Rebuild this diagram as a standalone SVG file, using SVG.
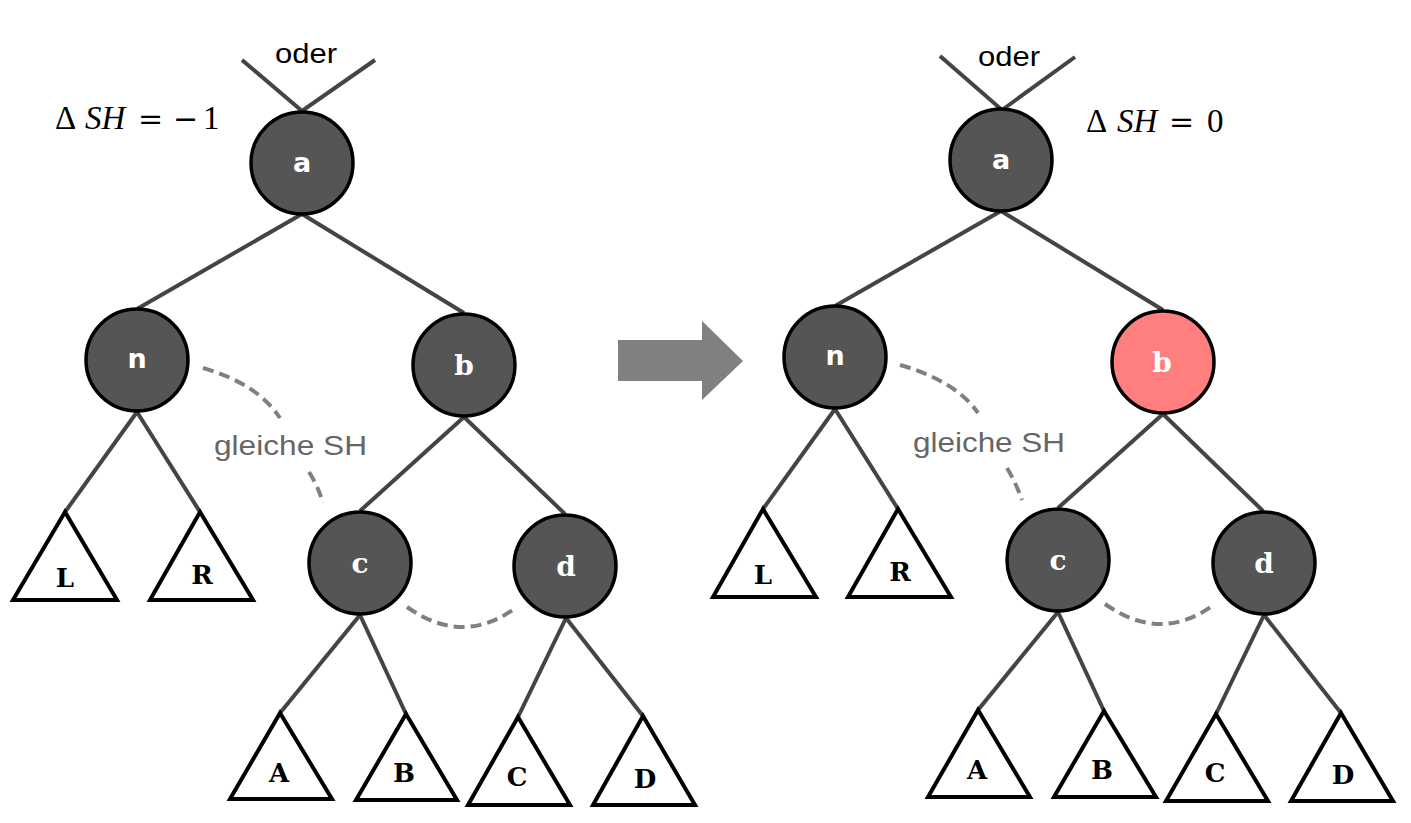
<svg xmlns="http://www.w3.org/2000/svg" width="1411" height="823" viewBox="0 0 1411 823">
<style>
.edge{stroke:#444;stroke-width:4;fill:none}
.node{fill:#555;stroke:#000;stroke-width:3.5}
.pink{fill:#ff7f7f;stroke:#000;stroke-width:3.5}
.tri{fill:#fff;stroke:#000;stroke-width:4;stroke-linejoin:miter}
.hl{font-family:"Comic Sans MS","DejaVu Sans",sans-serif;font-weight:bold;font-size:27px;fill:#fff;text-anchor:middle}
.ml{font-family:"DejaVu Serif","Liberation Serif",serif;font-weight:bold;font-size:28px;fill:#fff;text-anchor:middle}
.tl{font-family:"DejaVu Serif","Liberation Serif",serif;font-weight:bold;font-size:26px;fill:#000;text-anchor:middle}
.dash{stroke:#808080;stroke-width:4;fill:none;stroke-dasharray:11 6}
.lbl{font-family:"Liberation Sans",Arial,sans-serif;font-size:28px;fill:#666}
.oder{font-family:"Liberation Sans",Arial,sans-serif;font-size:27px;fill:#000}
.math{font-family:"Liberation Serif","Times New Roman",serif;font-size:33px;fill:#000}
.op{font-family:"DejaVu Serif",serif;font-size:30px}
</style>
<g id="connectors">
<polyline class="edge" points="242,60 302,111 375,60"/>
<line class="edge" x1="302" y1="214" x2="137" y2="309"/>
<line class="edge" x1="302" y1="214" x2="464" y2="313"/>
<line class="edge" x1="137" y1="412" x2="65" y2="512"/>
<line class="edge" x1="137" y1="412" x2="200" y2="512"/>
<line class="edge" x1="464" y1="417" x2="360" y2="511"/>
<line class="edge" x1="464" y1="417" x2="565" y2="514"/>
<line class="edge" x1="360" y1="615" x2="280" y2="713"/>
<line class="edge" x1="360" y1="615" x2="406" y2="714"/>
<line class="edge" x1="566" y1="618" x2="518" y2="717"/>
<line class="edge" x1="566" y1="618" x2="643" y2="716"/>
<polyline class="edge" points="940,56 1002,110 1075,57"/>
<line class="edge" x1="1001" y1="211" x2="835" y2="306"/>
<line class="edge" x1="1001" y1="211" x2="1163" y2="310"/>
<line class="edge" x1="835" y1="409" x2="763" y2="509"/>
<line class="edge" x1="835" y1="409" x2="898" y2="509"/>
<line class="edge" x1="1163" y1="414" x2="1058" y2="508"/>
<line class="edge" x1="1163" y1="414" x2="1263" y2="511"/>
<line class="edge" x1="1058" y1="612" x2="978" y2="710"/>
<line class="edge" x1="1058" y1="612" x2="1104" y2="711"/>
<line class="edge" x1="1264" y1="615" x2="1216" y2="714"/>
<line class="edge" x1="1264" y1="615" x2="1341" y2="713"/>
<path class="dash" d="M203,368 Q258,384 280,418"/>
<path class="dash" d="M309,472 Q318,486 323,503"/>
<path class="dash" d="M407,607 Q462,646 514,609"/>
<path class="dash" d="M900,365 Q956,381 978,413"/>
<path class="dash" d="M1007,468 Q1016,483 1022,500"/>
<path class="dash" d="M1105,604 Q1160,643 1212,606"/>
</g>
<g id="labels">
<text class="oder" x="275" y="63" textLength="62" lengthAdjust="spacingAndGlyphs">oder</text>
<text class="oder" x="978" y="66" textLength="62" lengthAdjust="spacingAndGlyphs">oder</text>
<text class="math" y="129"><tspan x="55">Δ</tspan><tspan x="85" font-style="italic">SH</tspan><tspan class="op" x="138">=</tspan><tspan class="op" x="173">−</tspan><tspan x="203">1</tspan></text>
<text class="math" y="132"><tspan x="1086">Δ</tspan><tspan x="1117" font-style="italic">SH</tspan><tspan class="op" x="1169">=</tspan><tspan x="1207">0</tspan></text>
<text class="lbl" x="214" y="455" textLength="153" lengthAdjust="spacingAndGlyphs">gleiche SH</text>
<text class="lbl" x="913" y="452" textLength="152" lengthAdjust="spacingAndGlyphs">gleiche SH</text>
</g>
<g id="arrow">
<polygon fill="#808080" points="618,340 702,340 702,321 743,361 702,400 702,381 618,381"/>
</g>
<g id="node-a-left"><circle class="node" cx="302" cy="163" r="51"/><text class="hl" x="302" y="172">a</text></g>
<g id="node-n-left"><circle class="node" cx="137" cy="360" r="51"/><text class="hl" x="137" y="368">n</text></g>
<g id="node-b-left"><circle class="node" cx="464" cy="365" r="51"/><text class="ml" x="464" y="375">b</text></g>
<g id="node-c-left"><circle class="node" cx="360" cy="563" r="51"/><text class="ml" x="360" y="573">c</text></g>
<g id="node-d-left"><circle class="node" cx="565" cy="566" r="51"/><text class="ml" x="566" y="576">d</text></g>
<g id="tri-L-left"><polygon class="tri" points="65,512 13,600 117,600"/><text class="tl" x="65" y="587">L</text></g>
<g id="tri-R-left"><polygon class="tri" points="200,512 150,600 253,600"/><text class="tl" x="202" y="584">R</text></g>
<g id="tri-A-left"><polygon class="tri" points="280,713 230,799 332,799"/><text class="tl" x="279" y="782">A</text></g>
<g id="tri-B-left"><polygon class="tri" points="406,714 356,800 457,800"/><text class="tl" x="404" y="782">B</text></g>
<g id="tri-C-left"><polygon class="tri" points="518,717 468,805 570,805"/><text class="tl" x="517" y="786">C</text></g>
<g id="tri-D-left"><polygon class="tri" points="643,716 593,805 695,805"/><text class="tl" x="645" y="788">D</text></g>
<g id="node-a-right"><circle class="node" cx="1001" cy="160" r="51"/><text class="hl" x="1001" y="169">a</text></g>
<g id="node-n-right"><circle class="node" cx="835" cy="357" r="51"/><text class="hl" x="835" y="365">n</text></g>
<g id="node-b-right"><circle class="pink" cx="1163" cy="362" r="51"/><text class="ml" x="1162" y="372">b</text></g>
<g id="node-c-right"><circle class="node" cx="1058" cy="560" r="51"/><text class="ml" x="1058" y="570">c</text></g>
<g id="node-d-right"><circle class="node" cx="1264" cy="563" r="51"/><text class="ml" x="1264" y="573">d</text></g>
<g id="tri-L-right"><polygon class="tri" points="763,509 713,597 816,597"/><text class="tl" x="763" y="584">L</text></g>
<g id="tri-R-right"><polygon class="tri" points="898,509 848,597 951,597"/><text class="tl" x="900" y="581">R</text></g>
<g id="tri-A-right"><polygon class="tri" points="978,710 928,797 1030,797"/><text class="tl" x="977" y="779">A</text></g>
<g id="tri-B-right"><polygon class="tri" points="1104,711 1054,797 1156,797"/><text class="tl" x="1102" y="779">B</text></g>
<g id="tri-C-right"><polygon class="tri" points="1216,714 1166,801 1268,801"/><text class="tl" x="1215" y="782">C</text></g>
<g id="tri-D-right"><polygon class="tri" points="1341,713 1291,801 1393,801"/><text class="tl" x="1343" y="784">D</text></g>
</svg>
